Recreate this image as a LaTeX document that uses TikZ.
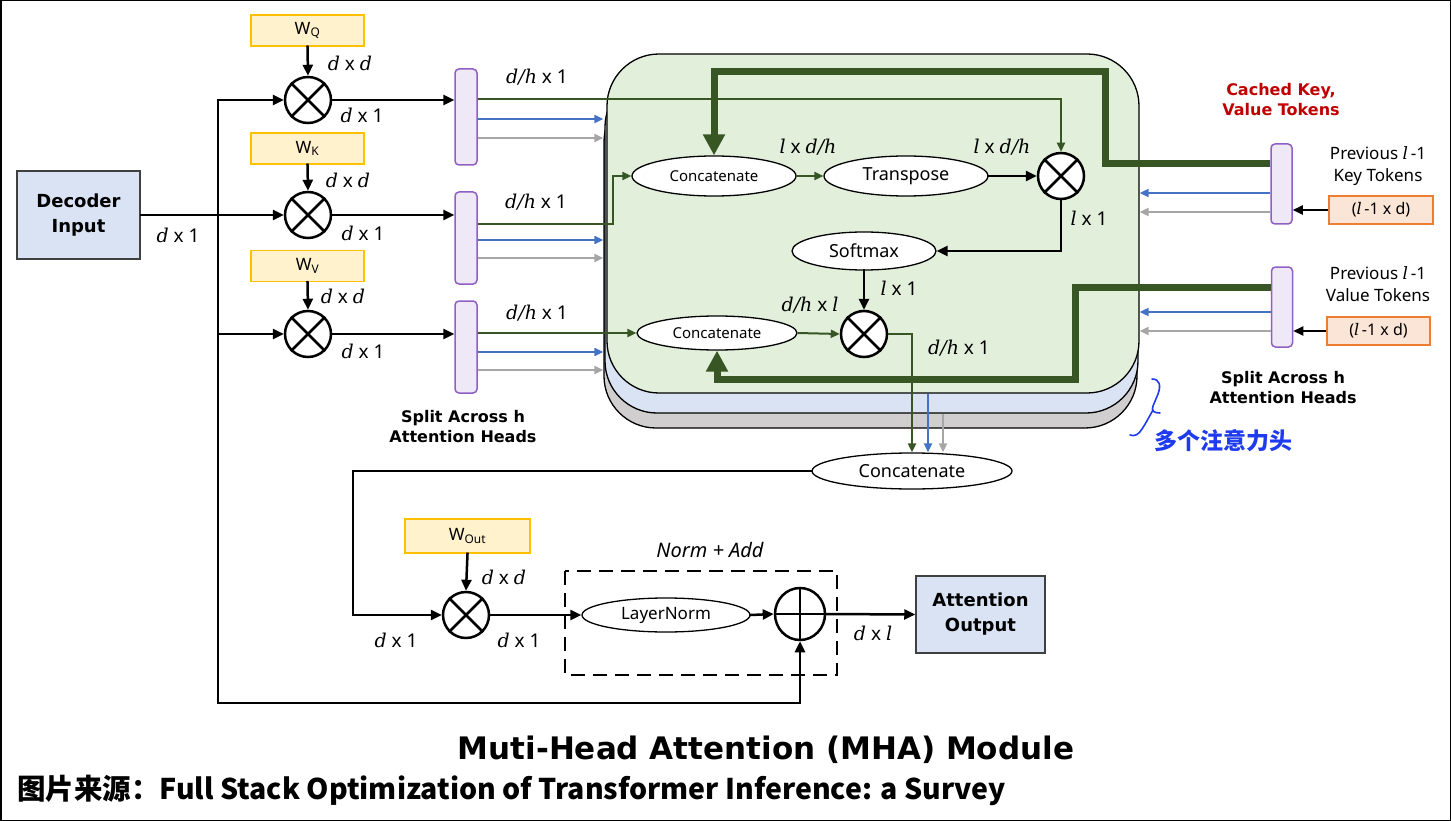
\documentclass[tikz,border=0pt]{standalone}
\usepackage{fontspec}
\setmainfont{Noto Sans}
\newfontfamily\vbf{DejaVu Sans}
\newfontfamily\mvar{DejaVu Serif}
\newfontfamily\cjk{Noto Sans CJK SC}
\newcommand\iv[1]{{\mvar\itshape #1}}
\usetikzlibrary{arrows.meta,shapes.geometric}
\definecolor{dgreen}{HTML}{375623}
\definecolor{lgreen}{HTML}{E2EFDA}
\definecolor{lblue}{HTML}{DAE3F3}
\definecolor{lgray}{HTML}{D0CECE}
\definecolor{mblue}{HTML}{4472C4}
\definecolor{mgray}{HTML}{A6A6A6}
\definecolor{wfill}{HTML}{FFF2CC}
\definecolor{wdraw}{HTML}{FFC000}
\definecolor{pfill}{HTML}{EEE8F7}
\definecolor{pdraw}{HTML}{8F5FC4}
\definecolor{ofill}{HTML}{FBE5D6}
\definecolor{odraw}{HTML}{ED7D31}
\definecolor{dred}{HTML}{C00000}
\definecolor{cnblue}{HTML}{1F3BEF}
\definecolor{boxedge}{HTML}{404040}
\newcommand\crossx[1]{\draw[line width=2.5pt] (#1.north west)--(#1.south east) (#1.north east)--(#1.south west);}
\begin{document}
\begin{tikzpicture}[x=1pt,y=-1pt,
  blk/.style={line width=2.5pt, black, line cap=rect},
  arr/.style={-{Triangle[length=11pt,width=10pt]}},
  sarr/.style={line width=2pt, black, -{Triangle[length=10pt,width=9pt]}},
  gthin/.style={line width=2pt, dgreen, -{Triangle[length=9pt,width=8pt]}},
  bthin/.style={line width=2pt, mblue, -{Triangle[length=9pt,width=8pt]}},
  ythin/.style={line width=2pt, mgray, -{Triangle[length=9pt,width=8pt]}},
  gthick/.style={line width=7pt, dgreen, -{Triangle[length=21pt,width=21pt]}},
  mult/.style={circle, draw, line width=2.5pt, minimum size=46pt, inner sep=0, fill=white},
  ell/.style={ellipse, draw, fill=white, line width=1.3pt, inner sep=0},
  wbox/.style={draw=wdraw, fill=wfill, line width=1.5pt, minimum width=113pt, minimum height=31pt, inner sep=0, font=\fontsize{17}{20}\selectfont},
  bar/.style={draw=pdraw, fill=pfill, line width=1.5pt, rounded corners=4pt, minimum width=22pt, inner sep=0},
  obox/.style={draw=odraw, fill=ofill, line width=1.5pt, minimum width=104pt, minimum height=28pt, inner sep=0, font=\fontsize{16}{18}\selectfont},
  bluebox/.style={draw=boxedge, fill=lblue, line width=1.5pt, inner sep=0, align=center, font=\vbf\bfseries\fontsize{18}{25}\selectfont},
  layer/.style={draw, line width=1.3pt, rounded corners=52pt, minimum width=533pt, minimum height=338pt, inner sep=0},
  lbl/.style={inner sep=0, font=\fontsize{19}{22}\selectfont},
  note/.style={inner sep=0, align=center, font=\vbf\bfseries\fontsize{16}{20}\selectfont},
  plain/.style={inner sep=0, align=center, font=\fontsize{17}{22}\selectfont}]
\useasboundingbox (0,0) rectangle (1451,821);
\draw[line width=1.5pt] (0.75,0.75) rectangle (1450.25,820.25);

% stacked heads
\node[layer, fill=lgray] (l3) at (870.5,259) {};
\node[layer, fill=lblue] (l2) at (871.5,244) {};
\node[layer, fill=lgreen, minimum width=532pt, minimum height=339pt] (l1) at (873,223.5) {};

% input
\node[bluebox, minimum width=123pt, minimum height=88pt] (dec) at (78.5,215) {Decoder\\Input};

% weights and multipliers
\node[wbox] (wq) at (307.5,30.5) {W\textsubscript{Q}};
\node[wbox] (wk) at (307.5,148.5) {W\textsubscript{K}};
\node[wbox] (wv) at (307.5,266) {W\textsubscript{V}};
\node[mult] (mq) at (308,100) {}; \crossx{mq}
\node[mult] (mk) at (308,215) {}; \crossx{mk}
\node[mult] (mv) at (308,334) {}; \crossx{mv}

% split bars
\node[bar, minimum height=96pt] (bq) at (466,117) {};
\node[bar, minimum height=92pt] (bk) at (466,238) {};
\node[bar, minimum height=92pt] (bv) at (466,347) {};

% inner nodes
\node[ell, minimum width=164pt, minimum height=40pt, font=\fontsize{15}{18}\selectfont] (c1) at (714,176) {Concatenate};
\node[ell, minimum width=164pt, minimum height=40pt, font=\fontsize{18}{22}\selectfont] (tr) at (906,176) {Transpose};
\node[mult] (mt) at (1061,176) {}; \crossx{mt}
\node[ell, minimum width=144pt, minimum height=38pt, font=\fontsize{18}{22}\selectfont] (sm) at (864,251) {Softmax};
\node[ell, minimum width=160pt, minimum height=34pt, font=\fontsize{15}{18}\selectfont] (c2) at (717,333) {Concatenate};
\node[mult] (ms) at (864,334) {}; \crossx{ms}

% cache side
\node[bar, minimum width=21pt, minimum height=80pt] (ck) at (1281.5,184) {};
\node[bar, minimum width=21pt, minimum height=80pt] (cv) at (1282,307) {};
\node[obox] (ok) at (1381,210) {(\iv{l}\,-1 x d)};
\node[obox, minimum width=103pt] (ov) at (1378.5,331) {(\iv{l}\,-1 x d)};

% output part
\node[ell, minimum width=200pt, minimum height=36pt, font=\fontsize{18}{22}\selectfont] (c3) at (912,471) {Concatenate};
\node[wbox, minimum width=125pt, minimum height=34pt] (wo) at (467.5,536) {W\textsubscript{Out}};
\node[mult] (mo) at (466,615) {}; \crossx{mo}
\draw[line width=2.5pt, dash pattern=on 14pt off 8pt] (565,571) rectangle (837,675);
\node[ell, minimum width=168pt, minimum height=34pt, font=\fontsize{17}{20}\selectfont] (ln) at (666,615) {LayerNorm};
\node[ellipse, draw, line width=2.5pt, minimum width=50pt, minimum height=52pt, inner sep=0, fill=white] (pa) at (800,614) {};
\draw[line width=2.5pt] (pa.north)--(pa.south) (pa.west)--(pa.east);
\node[bluebox, minimum width=129pt, minimum height=77pt] (ao) at (980.5,614.5) {Attention\\Output};

% coordinates
\coordinate (bt) at (218,100);
\coordinate (bvj) at (218,334);
\coordinate (bb) at (218,703);
\coordinate (kj) at (613,224);
\coordinate (kk1) at (1105,164);
\coordinate (kk2) at (714,72);
\coordinate (vv1) at (1075,287);
\coordinate (vv2) at (717,379);
\coordinate (cj) at (353,471);

% input connectors
\draw[blk,arr] (dec.east) -- (mk.west);
\draw[blk] (bt) -- (bb);
\draw[blk,arr] (bt) -- (mq.west);
\draw[blk,arr] (bvj) -- (mv.west);
\draw[blk,arr] (bb) -| (pa.south);
\draw[blk,arr] (wq.south) -- (mq.north);
\draw[blk,arr] (wk.south) -- (mk.north);
\draw[blk,arr] (wv.south) -- (mv.north);
\draw[blk,arr] (mq.east) -- (bq.west |- mq);
\draw[blk,arr] (mk.east) -- (bk.west |- mk);
\draw[blk,arr] (mv.east) -- (bv.west |- mv);

% split outputs
\draw[gthin] (bq.east |- 0,99) -| (mt.north);
\draw[bthin] (bq.east |- 0,119) -- (l3.west |- 0,119);
\draw[ythin] (bq.east |- 0,138) -- (l3.west |- 0,138);
\draw[gthin] (bk.east |- kj) -- (kj) |- (c1.west);
\draw[bthin] (bk.east |- 0,240) -- (l3.west |- 0,240);
\draw[ythin] (bk.east |- 0,258) -- (l3.west |- 0,258);
\draw[gthin] (bv.east |- c2) -- (c2.west);
\draw[bthin] (bv.east |- 0,352) -- (l3.west |- 0,352);
\draw[ythin] (bv.east |- 0,370) -- (l3.west |- 0,370);

% inner connectors
\draw[gthin] (c1.east) -- (tr.west);
\draw[blk,arr] (tr.east) -- (mt.west);
\draw[blk,arr] (mt.south) |- (sm.east);
\draw[blk,arr] (sm.south) -- (ms.north);
\draw[gthin] (c2.east) -- (ms.west);
\draw[gthin] (ms.east) -| (c3.north);
\draw[bthin] (l1.south -| 928,0) -- (c3.north -| 928,0);
\draw[ythin] (l2.south -| 943,0) -- (c3.north -| 943,0);

% cache connectors
\draw[gthick, line join=miter] (ck.west |- kk1) -- (kk1) |- (kk2) -- (c1.north);
\draw[gthick, line join=miter] (cv.west |- vv1) -- (vv1) |- (vv2) -- (c2.south);
\draw[bthin] (ck.west |- 0,193) -- (l1.east |- 0,193);
\draw[ythin] (ck.west |- 0,212) -- (l1.east |- 0,212);
\draw[bthin] (cv.west |- 0,312) -- (l1.east |- 0,312);
\draw[ythin] (cv.west |- 0,331) -- (l1.east |- 0,331);
\draw[sarr] (ok.west) -- (ck.east |- ok.west);
\draw[sarr] (ov.west) -- (cv.east |- ov.west);

% output connectors
\draw[blk,arr] (c3.west) -- (cj) |- (mo.west);
\draw[blk,arr] (wo.south) -- (mo.north);
\draw[blk,arr] (mo.east) -- (ln.west);
\draw[blk,arr] (ln.east) -- (pa.west);
\draw[blk,arr] (pa.east) -- (ao.west);

% labels
\node[lbl] (t1) at (178,235) {\iv{d} x 1};
\node[lbl] (t2) at (350,63) {\iv{d} x \iv{d}};
\node[lbl] (t3) at (362,115) {\iv{d} x 1};
\node[lbl] (t4) at (348,180) {\iv{d} x \iv{d}};
\node[lbl] (t5) at (363,233) {\iv{d} x 1};
\node[lbl] (t6) at (343,296) {\iv{d} x \iv{d}};
\node[lbl] (t7) at (363,351) {\iv{d} x 1};
\node[lbl] (t8) at (537,77) {\iv{d/h} x 1};
\node[lbl] (t9) at (536,202) {\iv{d/h} x 1};
\node[lbl] (t10) at (537,313) {\iv{d/h} x 1};
\node[lbl] (t11) at (808,147) {\iv{l} x \iv{d/h}};
\node[lbl] (t12) at (1002,147) {\iv{l} x \iv{d/h}};
\node[lbl] (t13) at (1089,218) {\iv{l} x 1};
\node[lbl] (t14) at (899,288) {\iv{l} x 1};
\node[lbl] (t15) at (810,305) {\iv{d/h} x \iv{l}};
\node[lbl] (t16) at (959,348) {\iv{d/h} x 1};
\node[lbl] (t17) at (504,577) {\iv{d} x \iv{d}};
\node[lbl] (t18) at (396,640) {\iv{d} x 1};
\node[lbl] (t19) at (519,640) {\iv{d} x 1};
\node[lbl] (t20) at (873,633) {\iv{d} x \iv{l}};
\node[inner sep=0, font=\itshape\fontsize{20}{22}\selectfont] (na) at (710,550) {Norm + Add};

\node[note] (sl) at (463,427) {Split Across h\\Attention Heads};
\node[note] (sr) at (1283,388) {Split Across h\\Attention Heads};
\node[note, text=dred] (ca) at (1281,100) {Cached Key,\\Value Tokens};
\node[plain] (pk) at (1378,166) {Previous \iv{l}\,-1\\Key Tokens};
\node[plain] (pv) at (1378,284) {Previous \iv{l}\,-1\\Value Tokens};

\draw[cnblue, line width=1.6pt, line cap=round, line join=round]
  (1152,379) .. controls (1160,379) and (1161,386) .. (1158,394) -- (1153,406)
  .. controls (1151,411) and (1154,413) .. (1160,413);
\draw[cnblue, line width=1.6pt, line cap=round, line join=round]
  (1153,410) .. controls (1149,417) and (1146,423) .. (1142,429)
  .. controls (1139,434) and (1135,437) .. (1130,435);
\node[inner sep=0, text=cnblue, font=\cjk\bfseries\fontsize{23}{26}\selectfont] (cn) at (1223,441) {多个注意力头};

\node[inner sep=0, font=\vbf\bfseries\fontsize{31}{36}\selectfont] (title) at (766,750) {Muti-Head Attention (MHA) Module};
\node[inner sep=0, anchor=west, font=\cjk\bfseries\fontsize{28.5}{32}\selectfont] (src) at (17,790) {图片来源：Full Stack Optimization of Transformer Inference: a Survey};
\end{tikzpicture}
\end{document}
